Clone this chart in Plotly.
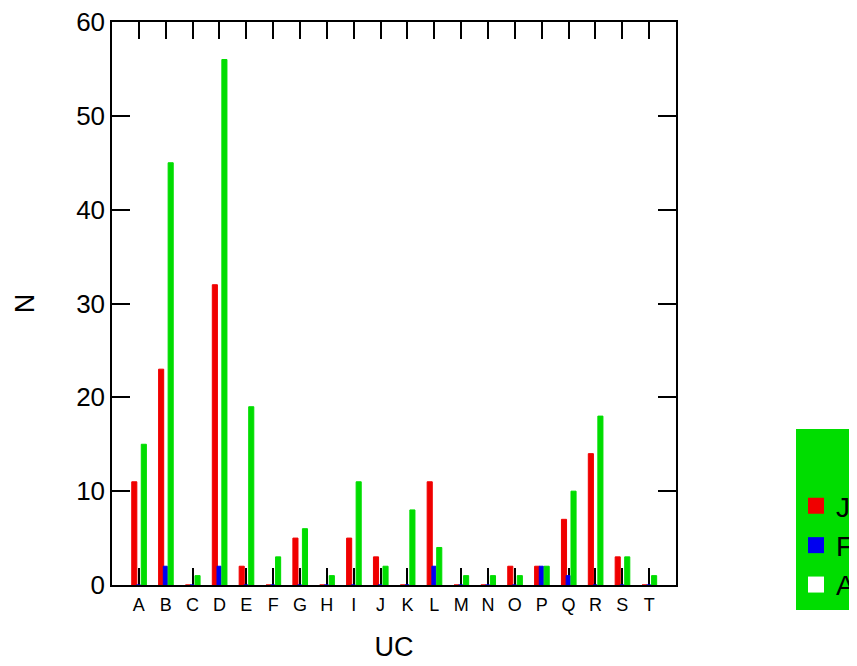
import plotly.graph_objects as go

categories = list("ABCDEFGHIJKLMNOPQRST")
series_j = [11, 23, 0, 32, 2, 0, 5, 0, 5, 3, 0, 11, 0, 0, 2, 2, 7, 14, 3, 0]
series_f = [0, 2, 0, 2, 0, 0, 0, 0, 0, 0, 0, 2, 0, 0, 0, 2, 1, 0, 0, 0]
series_a = [15, 45, 1, 56, 19, 3, 6, 1, 11, 2, 8, 4, 1, 1, 1, 2, 10, 18, 3, 1]
series_names = ["Juvenile", "Female", "Adult"]

RED = "rgb(240,0,0)"
BLUE = "rgb(0,0,240)"
GREEN = "rgb(0,221,0)"
FONT = "Liberation Sans, Arial, sans-serif"

fig = go.Figure()
fig.add_trace(go.Bar(x=categories, y=series_j, offset=-0.265, width=0.19,
                     marker=dict(color=RED, line=dict(color=RED, width=1)),
                     showlegend=False))
fig.add_trace(go.Bar(x=categories, y=series_f, offset=-0.09, width=0.15,
                     marker=dict(color=BLUE, line=dict(color=BLUE, width=1)),
                     showlegend=False))
fig.add_trace(go.Bar(x=categories, y=series_a, offset=0.09, width=0.19,
                     marker=dict(color=GREEN, line=dict(color=GREEN, width=1)),
                     showlegend=False))

for name, col in zip(series_names, [RED, BLUE, "white"]):
    fig.add_trace(go.Scatter(x=[None], y=[None], mode="markers", name=name,
                             marker=dict(symbol="square", size=16, color=col)))

fig.update_layout(
    width=857, height=666,
    margin=dict(l=104, r=189, t=14, b=89, autoexpand=False),
    paper_bgcolor="white", plot_bgcolor="white",
    barmode="overlay",
    font=dict(family=FONT, color="black"),
    showlegend=True,
    legend=dict(x=1.2128, y=0.277, xanchor="left", yanchor="top",
                bgcolor=GREEN, borderwidth=0,
                font=dict(size=28, family=FONT, color="black"),
                title=dict(text="&nbsp;<br>&nbsp;", font=dict(size=20)),
                itemsizing="trace"),
)
fig.update_xaxes(
    type="category", categoryorder="array", categoryarray=categories,
    range=[-1, 20], showgrid=False, zeroline=False,
    showline=True, linecolor="black", linewidth=1.5, mirror="ticks",
    ticks="inside", ticklen=17, tickwidth=1.5, tickcolor="black",
    tickfont=dict(size=18, family=FONT), layer="below traces",
    ticklabelstandoff=3,
    title=dict(text="UC", font=dict(size=27, family=FONT), standoff=23),
)
fig.update_yaxes(
    range=[0, 60], dtick=10, showgrid=False, zeroline=False,
    showline=True, linecolor="black", linewidth=1.5, mirror="ticks",
    ticks="inside", ticklen=18, tickwidth=1.5, tickcolor="black",
    tickfont=dict(size=26, family=FONT), layer="below traces",
    ticklabeloverflow="allow",
    title=dict(text="N", font=dict(size=27, family=FONT), standoff=34),
)

fig.write_html("out.html")
